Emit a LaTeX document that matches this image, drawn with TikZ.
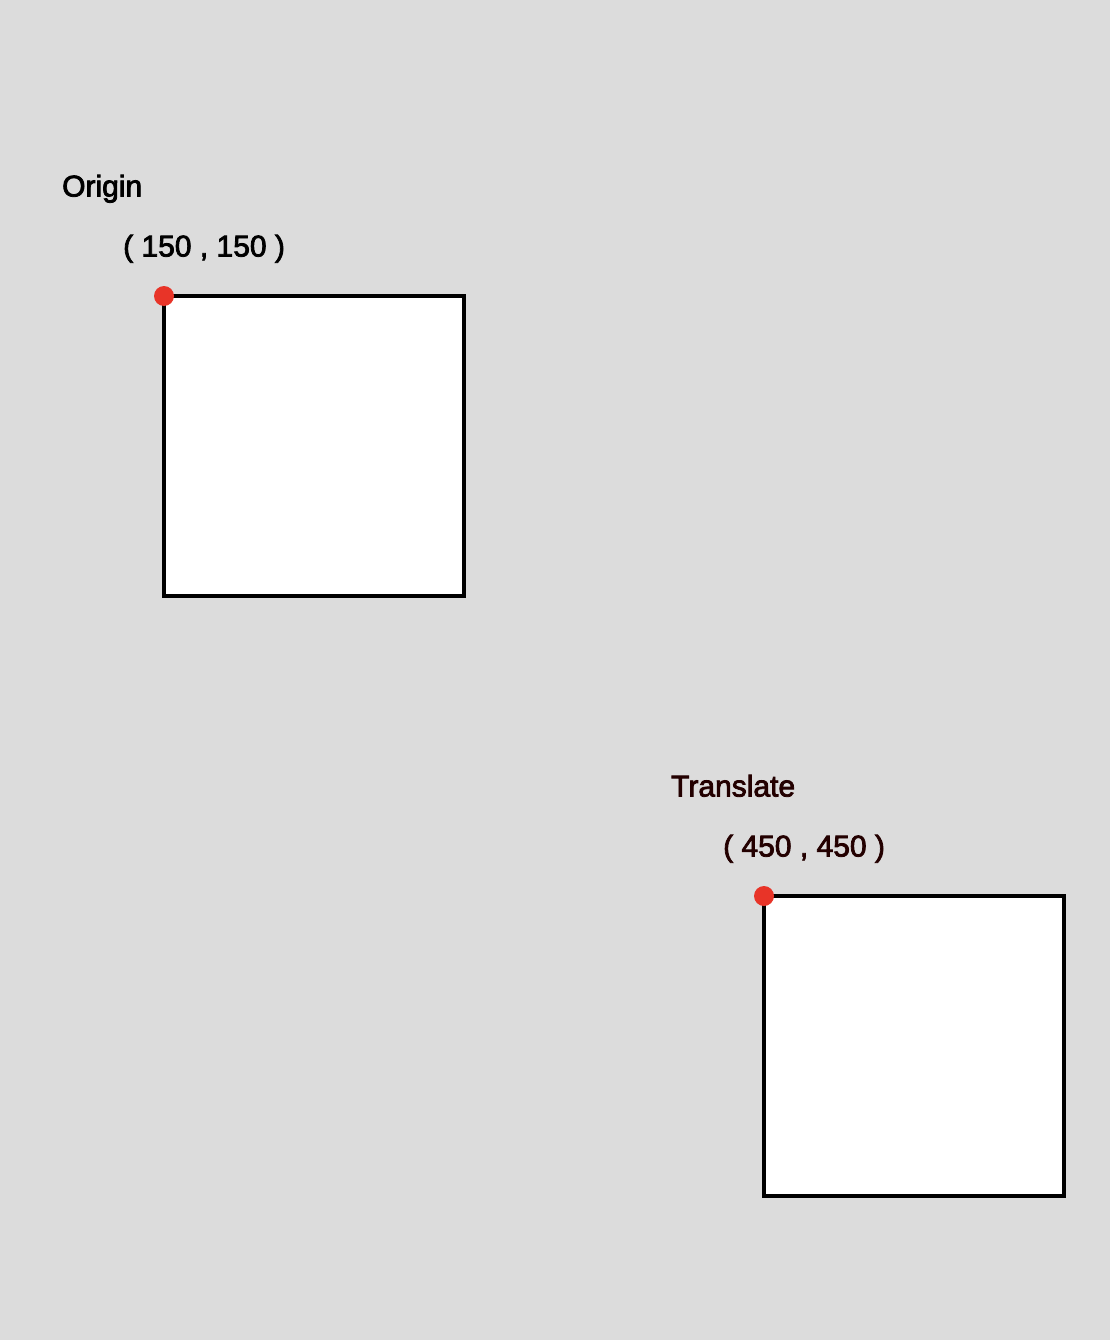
\documentclass[tikz,border=0pt]{standalone}
\usepackage{fontspec}
\setmainfont{Liberation Sans}
\newfontface\canvasfont{Liberation Sans}[FakeBold=2.6]
\definecolor{CanvasGray}{RGB}{220,220,220}
\definecolor{PointRed}{RGB}{232,52,40}
\definecolor{LabelDark}{RGB}{35,0,0}
\usetikzlibrary{positioning}

\begin{document}
\begin{tikzpicture}[x=1pt, y=-1pt,
    box/.style={draw=black, line width=3.4pt, fill=white, minimum size=300pt, inner sep=0pt, outer sep=0pt, anchor=north west},
    corner/.style={circle, fill=PointRed, minimum size=20pt, inner sep=0pt},
    coordtext/.style={font=\canvasfont\fontsize{30}{36}\selectfont, inner sep=0pt, anchor=base west}]
          \fill[CanvasGray] (0,0) rectangle (1110,1340);
          \useasboundingbox (0,0) rectangle (1110,1340);
          % origin square
          \begin{scope}
            \node[box] (sqA) at (164,296) {};
            \node[corner] (ptA) at (sqA.north west) {};
            \node[coordtext] (nameA) at (62,196.5) {Origin};
            \node[coordtext] (posA) at (123,256.5) {( 150 , 150 )};
          \end{scope}
          % translated square
          \begin{scope}[shift={(600,600)}]
            \node[box] (sqB) at (164,296) {};
            \node[corner] (ptB) at (sqB.north west) {};
            \node[coordtext, LabelDark] (nameB) at (71,196.5) {Translate};
            \node[coordtext, LabelDark] (posB) at (123,256.5) {( 450 , 450 )};
          \end{scope}
        \end{tikzpicture}
\end{document}
